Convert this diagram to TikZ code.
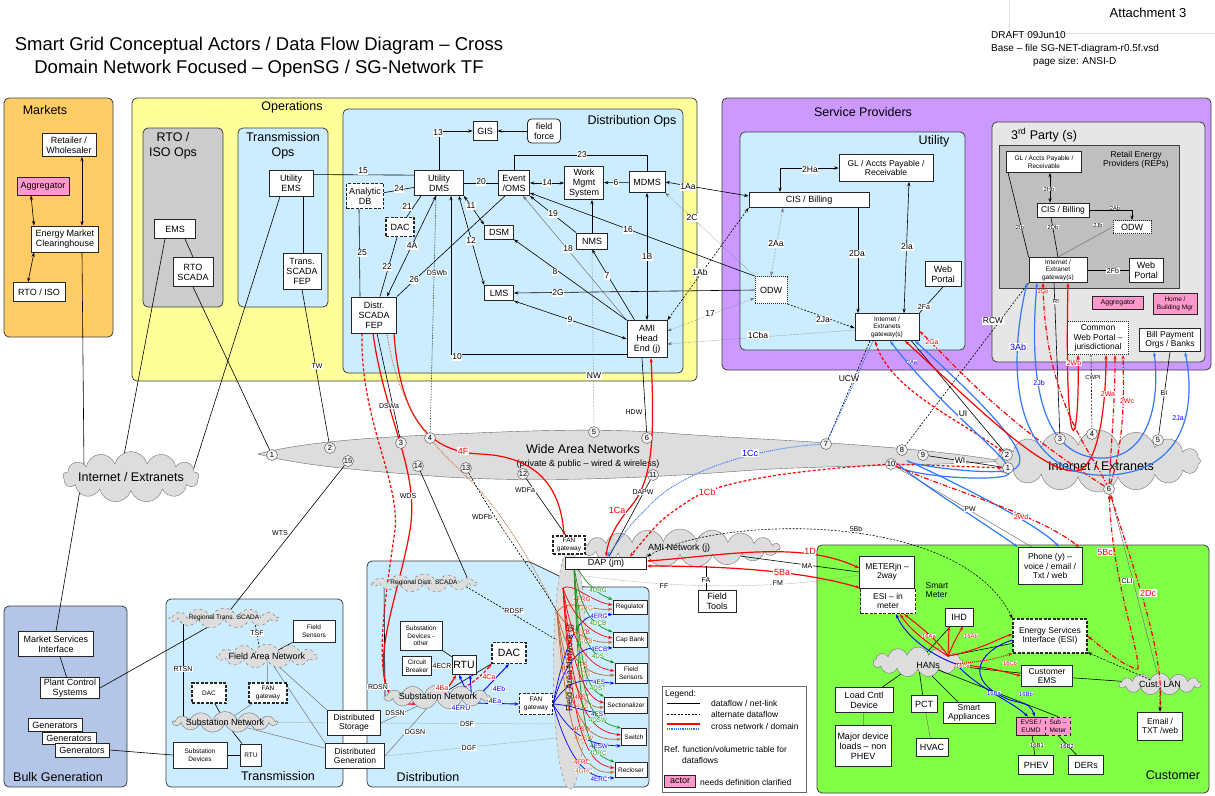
\documentclass[tikz,border=0pt]{standalone}
\usepackage{fontspec}
\setmainfont{Liberation Sans}
\usetikzlibrary{shapes.symbols,shapes.geometric,arrows.meta,positioning}

\definecolor{mktorange}{RGB}{255,204,102}
\definecolor{opsyellow}{RGB}{255,255,153}
\definecolor{rtogrey}{RGB}{204,204,204}
\definecolor{domblue}{RGB}{204,236,255}
\definecolor{sppurple}{RGB}{204,153,255}
\definecolor{tpgrey}{RGB}{230,230,230}
\definecolor{repgrey}{RGB}{191,191,191}
\definecolor{bulkblue}{RGB}{180,198,231}
\definecolor{custgreen}{RGB}{128,255,70}
\definecolor{actorpink}{RGB}{255,153,204}
\definecolor{netgrey}{RGB}{221,221,221}
\definecolor{xblue}{RGB}{50,120,255}
\definecolor{fbrown}{RGB}{190,100,40}
\definecolor{fgreen}{RGB}{20,150,20}

\pgfdeclarelayer{back}
\pgfdeclarelayer{mid}
\pgfsetlayers{back,mid,main}

\tikzset{
	zone/.style={draw=black!75, line width=0.8pt, rounded corners=5pt},
	zonelbl/.style={font=\fontsize{12.5}{14.5}\selectfont, align=center, inner sep=0pt},
	box/.style={draw=black!85, line width=0.8pt, fill=white, align=center, inner sep=0pt, font=\fontsize{9}{10}\selectfont},
	sz/.style 2 args={minimum width=#1pt, minimum height=#2pt},
	dbox/.style={box, dash pattern=on 3pt off 1.5pt, line width=1.1pt},
	obox/.style={box, dash pattern=on 1pt off 1pt, line width=1pt},
	actor/.style={box, fill=actorpink},
	net/.style={cloud, cloud puffs=13, cloud ignores aspect, draw=black!55, fill=netgrey, inner sep=0pt},
	nettxt/.style={font=\fontsize{9}{10}\selectfont, inner sep=0pt},
	fs6/.style={font=\fontsize{6.5}{7.5}\selectfont},
	fs8/.style={font=\fontsize{8.5}{9.5}\selectfont},
	fs10/.style={font=\fontsize{10.5}{12}\selectfont},
	flow/.style={fill=white, inner sep=0.6pt, font=\fontsize{8.5}{9}\selectfont},
	sflow/.style={flow, font=\fontsize{7}{7.5}\selectfont},
	tflow/.style={flow, inner sep=0.3pt, font=\fontsize{5.8}{6}\selectfont},
	dflow/.style={flow, inner sep=0.2pt, font=\fontsize{6.3}{6.5}\selectfont},
	tap/.style={circle, draw=black!70, fill=black!5, inner sep=0pt, minimum size=11pt, font=\fontsize{7.5}{7.5}\selectfont},
	link/.style={draw=black, line width=0.6pt},
	alt/.style={link, dash pattern=on 2pt off 1.5pt},
	faint/.style={draw=black!55, line width=0.5pt},
	xr/.style={draw=red, line width=1.2pt},
	xb/.style={draw=xblue, line width=1.2pt},
	hb/.style={draw=blue, line width=0.9pt},
	dd/.style={dash pattern=on 5pt off 2pt on 1pt off 2pt},
	>={Stealth[length=4.5pt,width=3.2pt]},
}

\begin{document}
\begin{tikzpicture}[x=1pt, y=-1pt]
	\useasboundingbox (0,0) rectangle (1215,795);

	% Domains and networks
	\begin{pgfonlayer}{back}
	\fill[white] (0,0) rectangle (1215,795);
	\draw[zone, fill=mktorange] (4,98) rectangle (113,337);
	\draw[zone, fill=opsyellow] (132,98) rectangle (697,381);
	\draw[zone, fill=rtogrey] (143,128) rectangle (223,307);
	\draw[zone, fill=domblue] (238,128) rectangle (328,307);
	\draw[zone, fill=domblue] (343,109) rectangle (683,373);
	\draw[zone, fill=sppurple] (722,98) rectangle (1211,370);
	\draw[zone, fill=domblue] (740,132) rectangle (965,350);
	\draw[zone, fill=tpgrey] (992,122) rectangle (1205,362);
	\draw[draw=black!75, line width=0.8pt, fill=repgrey] (999,145) rectangle (1179,288);
	\draw[zone, fill=bulkblue] (4,606) rectangle (127,787);
	\draw[zone, fill=domblue] (166,599) rectangle (343,787);
	\draw[zone, fill=domblue] (367,561) -- (528,561) -- (582,587) -- (649,587) -- (649,787) -- (367,787) -- cycle;
	\draw[zone, fill=custgreen] (817,545) rectangle (1209,793);

	\draw[draw=black!60, fill=netgrey] (258,454) .. controls (300,443) and (360,438) .. (430,435) .. controls (520,431) and (600,427) .. (680,434) .. controls (780,441) and (900,444) .. (1003,461) .. controls (940,466) and (820,465) .. (740,471) .. controls (650,478) and (520,484) .. (420,475) .. controls (340,469) and (290,463) .. cycle;
	\node[zonelbl] (wanlbl) at (583,449) {Wide Area Networks};
	\node[nettxt] (wansub) at (588,464) {(private \& public – wired \& wireless)};

	\node[net, cloud puffs=16, sz={205}{62}] (inetR) at (1098,461) {};
	\node[zonelbl] at (1101,466) {Internet / Extranets};
	\node[net, cloud puffs=19, sz={200}{38}] (amiN) at (680,548) {};
	\node[nettxt] at (679,548) {AMI Network (j)};
	\node[ellipse, draw=black!50, dashed, fill=netgrey, sz={33}{242}] (fanE) at (570,668) {};
	\node[nettxt, rotate=90] at (570,668) {Field Area Network (j)};
	\node[net, sz={90}{30}] (hans) at (918,662) {};
	\node[nettxt] at (928,665) {HANs};
	\node[net, sz={82}{22}] (custlan) at (1160,684) {};
	\node[nettxt] at (1160,684) {Cust. LAN};
	\end{pgfonlayer}

	% Title
	\node[font=\fontsize{18.5}{23}\selectfont, align=center] (title) at (259,57) {Smart Grid Conceptual Actors / Data Flow Diagram – Cross\\Domain Network Focused – OpenSG / SG-Network TF};
	\draw[black!12] (1009,0) -- (1009,33) -- (1215,33);
	\node[font=\fontsize{13}{14}\selectfont] (attach) at (1148,13) {Attachment 3};
	\node[anchor=north west, align=left, font=\fontsize{10}{13}\selectfont, inner sep=0pt] (draft) at (991,31) {DRAFT 09Jun10\\Base – file SG-NET-diagram-r0.5f.vsd\\\hspace*{4.2em}page size: ANSI-D};

	% Markets
	\node[zonelbl] (mktlbl) at (45,110) {Markets};
	\node[box, sz={54}{23}] (ret) at (69,145) {Retailer /\\Wholesaler};
	\node[actor, sz={52}{18}] (aggM) at (43,186) {Aggregator};
	\node[box, sz={67}{26}] (emc) at (65,239) {Energy Market\\Clearinghouse};
	\node[box, sz={52}{19}] (rtoiso) at (39,292) {RTO / ISO};
	\node[net, sz={136}{51}] (inetL) at (131,477) {};
	\node[zonelbl] at (131,477) {Internet / Extranets};

	% Operations
	\node[zonelbl] (opslbl) at (292,107) {Operations};
	\node[zonelbl] (rtolbl) at (173,146) {RTO /\\ISO Ops};
	\node[box, sz={41}{19}] (ems) at (175,229) {EMS};
	\node[box, sz={40}{29}] (rtoscada) at (193,272) {RTO\\SCADA};
	\node[zonelbl] (tolbl) at (283,146) {Transmission\\Ops};
	\node[box, sz={44}{26}] (uems) at (291,183) {Utility\\EMS};
	\node[box, sz={38}{36}] (tscada) at (302,271) {Trans.\\SCADA\\FEP};

	\node[zonelbl] (dolbl) at (632,121) {Distribution Ops};
	\node[box, sz={24}{19}] (gis) at (485,131) {GIS};
	\node[box, rounded corners=4pt, sz={33}{24}] (ff) at (544,131) {field\\force};
	\node[box, sz={49}{25}] (udms) at (439,183) {Utility\\DMS};
	\node[dbox, sz={37}{25}] (adb) at (365,196) {Analytic\\DB};
	\node[dbox, sz={28}{19}] (dacO) at (400,227) {DAC};
	\node[box, sz={31}{25}] (oms) at (514,183) {Event\\/OMS};
	\node[box, sz={39}{33}] (wms) at (584,183) {Work\\Mgmt\\System};
	\node[box, sz={36}{21}] (mdms) at (647,182) {MDMS};
	\node[box, sz={29}{14}] (dsm) at (499,232) {DSM};
	\node[box, sz={31}{16}] (nms) at (592,241) {NMS};
	\node[box, sz={29}{15}] (lms) at (499,293) {LMS};
	\node[box, sz={45}{36}] (dscada) at (374,315) {Distr.\\SCADA\\FEP};
	\node[box, sz={40}{37}] (ami) at (647,339) {AMI\\Head\\End (j)};

	% Service Providers
	\node[zonelbl] (splbl) at (863,112) {Service Providers};
	\node[zonelbl] (utlbl) at (934,141) {Utility};
	\node[box, fs8, sz={94}{27}] (gl) at (886,168) {GL / Accts Payable /\\Receivable};
	\node[box, sz={120}{15}] (cis) at (809,200) {CIS / Billing};
	\node[obox, sz={32}{27}] (odw) at (771,290) {ODW};
	\node[box, sz={36}{25}] (web) at (943,274) {Web\\Portal};
	\node[box, fs6, sz={64}{27}] (gwU) at (887,327) {Internet /\\Extranets\\gateway(s)};

	\node[zonelbl] (tplbl) at (1044,135) {3\textsuperscript{rd} Party (s)};
	\node[fs8, align=center, inner sep=0pt] (replbl) at (1136,160) {Retail Energy\\Providers (REPs)};
	\node[box, fs6, sz={75}{21}] (gl3) at (1044,162) {GL / Accts Payable /\\Receivable};
	\node[box, fs8, sz={52}{14}] (cis3) at (1063,210) {CIS / Billing};
	\node[obox, sz={38}{13}] (odw3) at (1132,227) {ODW};
	\node[box, fs6, sz={58}{25}] (gw3) at (1058,270) {Internet /\\Extranet\\gateway(s)};
	\node[box, sz={34}{24}] (web3) at (1146,270) {Web\\Portal};
	\node[actor, font=\fontsize{7}{8}\selectfont, sz={51}{13}] (agg3) at (1118,303) {Aggregator};
	\node[actor, fs6, sz={44}{21}] (hbm) at (1175,304) {Home /\\Building Mgr};
	\node[obox, fs8, sz={61}{33}] (cwp) at (1098,338) {Common\\Web Portal –\\jurisdictional};
	\node[box, fs8, sz={61}{23}] (bill) at (1170,340) {Bill Payment\\Orgs / Banks};

	% Network taps
	\foreach \n/\x/\y in {1/272/455, 2/330/448, 15/348/461, 3/401/443, 4/430/438, 14/418/466, 13/466/468, 12/523/474, 5/594/432, 6/647/438, 11/653/475, 7/826/444, 8/902/450, 9/923/455, 10/891/464}
		\node[tap] (w\n) at (\x,\y) {\n};
	\foreach \n/\x/\y in {1/1008/468, 2/1007/455, 3/1060/439, 4/1092/434, 5/1158/440, 6/1109/489}
		\node[tap] (i\n) at (\x,\y) {\n};

	% AMI
	\node[dbox, fs6, sz={32}{18}] (fangT) at (569,545) {FAN\\gateway};
	\node[box, sz={81}{12}] (dap) at (606,563) {DAP (jm)};
	\node[box, sz={38}{22}] (ftools) at (717,601) {Field\\Tools};

	% Bulk Generation
	\node[zonelbl] at (58,777) {Bulk Generation};
	\node[box, sz={75}{25}] (msi) at (56,644) {Market Services\\Interface};
	\node[box, sz={59}{21}] (pcs) at (70,688) {Plant Control\\Systems};
	\node[box, sz={54}{13}] (gen1) at (55,725) {Generators};
	\node[box, sz={54}{12}] (gen2) at (69,738) {Generators};
	\node[box, sz={54}{14}] (gen3) at (82,750) {Generators};

	% Transmission
	\node[zonelbl] at (278,776) {Transmission};
	\node[net, dashed, sz={108}{20}] (rtscada) at (224,618) {};
	\node[nettxt, fs6] at (224,618) {Regional Trans. SCADA};
	\node[box, fs6, sz={42}{22}] (fsensT) at (314,631) {Field\\Sensors};
	\node[net, dashed, sz={100}{24}] (fanT) at (267,656) {};
	\node[nettxt] at (267,656) {Field Area Network};
	\node[dbox, fs6, sz={34}{20}] (dacT) at (209,693) {DAC};
	\node[dbox, fs6, sz={38}{20}] (fangTr) at (268,693) {FAN\\gateway};
	\node[net, sz={104}{21}] (subT) at (225,722) {};
	\node[nettxt] at (225,722) {Substation Network};
	\node[box, fs6, sz={54}{26}] (sdev) at (200,755) {Substation\\Devices};
	\node[box, fs6, sz={21}{22}] (rtuT) at (251,755) {RTU};
	\node[box, fs8, sz={53}{25}] (dstor) at (354,723) {Distributed\\Storage};
	\node[box, fs8, sz={59}{25}] (dgen) at (355,756) {Distributed\\Generation};

	% Distribution
	\node[zonelbl] at (428,777) {Distribution};
	\node[net, dashed, sz={105}{18}] (rdscada) at (424,583) {};
	\node[nettxt, fs6] at (424,583) {Regional Distr. SCADA};
	\node[box, fs6, sz={42}{29}] (sdevo) at (421,636) {Substation\\Devices -\\other};
	\node[box, fs6, sz={29}{19}] (cbrk) at (417,666) {Circuit\\Breaker};
	\node[box, fs10, sz={24}{19}] (rtuD) at (464,665) {RTU};
	\node[dbox, fs10, sz={34}{21}] (dacD) at (509,653) {DAC};
	\node[net, sz={105}{24}] (subD) at (437,697) {};
	\node[nettxt] at (438,696) {Substation Network};
	\node[dbox, fs6, sz={33}{21}] (fangD) at (536,704) {FAN\\gateway};
	\node[box, fs6, sz={34}{14}] (reg) at (630,607) {Regulator};
	\node[box, fs6, sz={34}{15}] (cap) at (630,640) {Cap Bank};
	\node[box, fs6, sz={32}{20}] (fsenD) at (631,673) {Field\\Sensors};
	\node[box, fs6, sz={43}{16}] (sect) at (626,705) {Sectionalizer};
	\node[box, fs6, sz={25}{17}] (sw) at (634,737) {Switch};
	\node[box, fs6, sz={32}{15}] (recl) at (631,770) {Recloser};

	% Customer
	\node[zonelbl] at (1173,775) {Customer};
	\node[box, fs8, sz={55}{32}] (meter) at (887,572) {METERjn –\\2way};
	\node[dbox, fs8, sz={55}{25}] (esim) at (888,601) {ESI – in\\meter};
	\node[fs8, align=left, inner sep=0pt] (smlbl) at (937,590) {Smart\\Meter};
	\node[box, fs8, sz={64}{37}] (phone) at (1050,566) {Phone (y) –\\voice / email /\\Txt / web};
	\node[box, sz={28}{18}] (ihd) at (959,617) {IHD};
	\node[dbox, fs8, sz={74}{34}] (esi) at (1050,636) {Energy Services\\Interface (ESI)};
	\node[box, fs8, sz={51}{21}] (cems) at (1047,676) {Customer\\EMS};
	\node[box, fs8, sz={45}{28}] (email) at (1160,726) {Email /\\TXT /web};
	\node[box, fs8, sz={52}{21}] (sapp) at (969,713) {Smart\\Appliances};
	\node[actor, fs6, sz={30}{18}] (evse) at (1031,726) {EVSE /\\EUMD};
	\node[actor, fs6, dashed, sz={25}{18}] (subm) at (1058,726) {Sub –\\Meter};
	\node[box, sz={35}{19}] (phev) at (1036,765) {PHEV};
	\node[box, sz={35}{19}] (ders) at (1086,765) {DERs};
	\node[box, sz={58}{25}] (lcd) at (864,700) {Load Cntl\\Device};
	\node[box, sz={56}{41}] (mdl) at (863,746) {Major device\\loads – non\\PHEV};
	\node[box, sz={26}{17}] (pct) at (924,704) {PCT};
	\node[box, sz={32}{18}] (hvac) at (932,747) {HVAC};

	% Legend
	\draw[black!60, fill=white] (662,686) rectangle (806,792);
	\node[anchor=west, inner sep=0pt, fs8] at (665,694) {Legend:};
	\draw[link] (667,703) -- (700,703);
	\node[anchor=west, inner sep=0pt, fs8] at (711,703) {dataflow / net-link};
	\draw[alt] (667,714) -- (700,714);
	\node[anchor=west, inner sep=0pt, fs8] at (711,714) {alternate dataflow};
	\draw[xr] (667,724) -- (700,724);
	\draw[xb, densely dotted] (667,729) -- (700,729);
	\node[anchor=west, inner sep=0pt, fs8] at (711,726) {cross network / domain};
	\node[anchor=west, inner sep=0pt, fs8] at (664,749) {Ref. function/volumetric table for};
	\node[anchor=west, inner sep=0pt, fs8] at (682,760) {dataflows};
	\node[actor, sz={31}{12}] at (680,781) {actor};
	\node[anchor=west, inner sep=0pt, fs8] at (700,782) {needs definition clarified};

	\begin{pgfonlayer}{mid}
	% Markets
	\coordinate (inetLa) at (84,468);
	\coordinate (inetLb) at (80,490);
	\coordinate (inetLc) at (122,466);
	\coordinate (inetLd) at (192,474);
	\draw[link,<->] ([xshift=13pt]ret.south) -- ([xshift=17pt]emc.north);
	\draw[link,<->] ([xshift=-12pt]aggM.south) -- ([xshift=-31pt]emc.north);
	\draw[link,<->] ([xshift=-31pt]emc.south) -- ([xshift=-11pt]rtoiso.north);
	\draw[link] ([xshift=17pt]emc.south) -- (inetLa);
	\draw[link] (msi.north) -- (inetLb);

	% Operations
	\draw[link] ([xshift=-10pt]ems.south) -- (inetLc);
	\draw[link] ([xshift=10pt]ems.south) -- (rtoscada.north);
	\draw[link] (rtoscada.south) -- (w1);
	\draw[link] ([xshift=-11pt]uems.south) -- (inetLd);
	\draw[link] ([xshift=12pt]uems.south) -- ([xshift=1pt]tscada.north);
	\draw[link] (tscada.south) -- (w2);
	\draw[link] ([yshift=-5pt]uems.north east) -- ([yshift=-5pt]udms.north west);

	% Distribution Ops
	\draw[link,->] (udms.north) |- (gis.west);
	\draw[link,->] (ff) -- (gis);
	\draw[link] (adb) -- (udms);
	\draw[link] (dacO) -- ([xshift=-18pt]udms.south);
	\draw[link] ([xshift=-6pt]adb.south) -- ([xshift=-14pt]dscada.north);
	\draw[link] (dacO) -- ([xshift=6pt]dscada.north);
	\draw[link,<->] ([xshift=13pt]dscada.north) -- ([xshift=-3pt]udms.south);
	\draw[link] (dscada.north east) -- ([xshift=-9pt]oms.south);
	\draw[link] (udms) -- (oms);
	\draw[link,<->] (oms) -- (wms);
	\draw[link,->] (mdms) -- (wms);
	\draw[link] (oms.north) -- ++(0,-15) -| (mdms.north);
	\draw[link,<->] (udms.south east) -- (dsm.north west);
	\draw[link,<->] ([xshift=-5pt]udms.south east) -- (lms.north west);
	\draw[link,->] (nms.north west) -- (oms.south east);
	\draw[faint,->] (ami.north west) -- ([xshift=9pt]oms.south);
	\draw[link,->] (odw.north west) -- ([yshift=3pt]oms.south east);
	\draw[link,->] (nms.north) -- (nms.north |- wms.south);
	\draw[link,->] (ami.north west) -- (dsm.south east);
	\draw[link,->] ([xshift=8pt]ami.north west) -- (nms.south);
	\draw[link,<->] (ami.north) -- (mdms.south);
	\draw[link,->] (odw.west) -- (lms.east);
	\draw[link,<->] (lms.south east) -- (ami.west);
	\draw[link,->] ([yshift=-15pt]ami.west) -| ([xshift=12pt]udms.south);
	\draw[link,<->] (mdms.east) -- ([yshift=4pt]cis.west);
	\draw[faint, densely dotted, ->] (odw.north west) -- (mdms.south east);
	\draw[alt,<->] (ami.north east) -- (cis.south west);
	\draw[faint, densely dotted, <->] ([yshift=8pt]ami.east) -- ([yshift=-8pt]odw.west);
	\draw[faint, densely dotted, <-] ([yshift=-5pt]ami.east) -- ([yshift=-3pt]gwU.west);

	% Utility
	\draw[faint, densely dotted, <->] ([xshift=-26pt]cis.south) -- (odw.north);
	\draw[link,<->] ([xshift=-29pt]cis.north) |- (gl.west);
	\draw[link,->] ([xshift=49pt]cis.south) -- ([xshift=-29pt]gwU.north);
	\draw[link,<->] ([xshift=23pt]gl.south) -- ([xshift=17pt]gwU.north);
	\draw[link] (web.south) -- (gwU.north east);
	\draw[alt,->] (odw.south east) -- ([yshift=-1pt]gwU.west);

	% 3rd party
	\draw[link,<->] ([xshift=6pt]gl3.south) -- ([xshift=-13pt]cis3.north);
	\draw[link,->] (cis3.east) -| (odw3.north);
	\draw[link] ([xshift=2pt]gl3.south west) -- (gw3.north west);
	\draw[link] ([xshift=-12pt]cis3.south) -- (gw3.north);
	\draw[faint] (odw3.west) -- (gw3.north);
	\draw[link] (gw3.east) -- (web3.west);

	% Wide area links
	\draw[faint, densely dotted] (nms.south) -- (w5);
	\draw[link] ([xshift=-5pt]ami.south) -- (w6);
	\draw[link, densely dotted] ([xshift=-3pt]udms.south) -- (w4);
	\draw[link] ([xshift=3pt]dscada.south) -- (w3);
	\draw[alt] ([xshift=-17pt]gwU.south) -- (w7);
	\draw[alt] (gw3.south west) -- (w8);
	\draw[link] ([xshift=-8pt]gwU.south east) -- (i2);
	\draw[link] (w9) -- (i1);
	\draw[faint] (w10) -- ([xshift=-18pt]phone.north);
	\draw[link] ([xshift=-4pt]gw3.south) -- (i3);
	\draw[alt] ([xshift=-7pt]cwp.south) -- (i4);
	\draw[link] (bill.south) -- (i5);
	\draw[faint] (i6) -- (custlan);
	\draw[link] (w11) -- ([xshift=3pt]dap.north);
	\draw[link] (w12) -- ([xshift=-3pt]fangT.north);
	\draw[link] (w14) -- (rdscada);
	\draw[link] (w15) -- (rtscada);

	% Bulk generation and transmission
	\draw[link] (msi) -- (pcs);
	\draw[link] (pcs.east) -- (rtscada);
	\draw[link] (gen3.east) -- (sdev.west);
	\draw[link] (sdev) -- (rtuT);
	\draw[link] (rtuT) -- (subT);
	\draw[link] ([xshift=-41pt]rtscada.center) -- ([xshift=-42pt]subT.center);
	\draw[alt] ([xshift=30pt]rtscada.center) -- ([xshift=-6pt]fanT.center);
	\draw[link] (fanT) -- (fsensT);
	\draw[faint] (fanT) -- (fangTr);
	\draw[faint] (fangTr) -- (subT);
	\draw[link] (dacT) -- (subT);
	\draw[faint, densely dotted] (subT) -- (dstor);
	\draw[faint] (subT) -- (dgen);
	\draw[faint] (fanT) -- (dstor.north west);
	\draw[faint] (fanT) -- (dgen.north west);

	% Distribution
	\coordinate (fanRD) at (557,640);
	\coordinate (fanDS) at (556,724);
	\coordinate (fanDG) at (556,738);
	\coordinate (subDe) at (472,703);
	\draw[link] ([xshift=-40pt]rdscada.center) -- ([xshift=-52pt]subD.center);
	\draw[alt] (rdscada) -- (fanRD);
	\draw[faint] (dstor.east) -- (subD);
	\draw[faint] (dgen.east) -- (subD);
	\draw[faint, densely dotted] (dstor.east) -- (fanDS);
	\draw[faint, densely dotted] (dgen.east) -- (fanDG);
	\draw[link] (rtuD) -- (sdevo);
	\draw[link] (rtuD) -- (cbrk);
	\draw[link] (subD) -- (dacD);
	\draw[hb,->] (subDe) -- ([xshift=-5pt]rtuD.south);
	\draw[hb,->] (subDe) -- ([xshift=6pt]rtuD.south);
	\draw[hb,->] (subDe) -- (dacD.south);
	\draw[hb,->] (subDe) -- (fangD.west);

	% Field devices
	\coordinate (srcG) at (574,567);
	\coordinate (srcR) at (563,588);
	\coordinate (srcB) at (557,612);
	\foreach \dev/\code/\dy in {reg/RG/607, cap/CB/640, fsenD/S/673, sect/ST/705, sw/SW/737, recl/RC/770} {
		\draw[fgreen, line width=0.7pt, ->] (srcG) .. controls (580,\dy-40) and (585,\dy-18) .. (\dev.north west);
		\draw[red, line width=0.7pt, ->] (srcR) .. controls (572,\dy-25) and (590,\dy-6) .. ([yshift=2pt]\dev.west);
		\draw[fbrown, line width=0.7pt, ->] (srcB) .. controls (568,\dy-10) and (590,\dy+4) .. ([yshift=-2pt]\dev.west);
		\draw[blue, line width=0.7pt, ->] (fangD.east) .. controls (572,\dy) and (590,\dy+8) .. (\dev.south west);
		\node[dflow, text=fgreen] at (598,\dy-17) {4D\code};
		\node[dflow, text=red] at (582,\dy-8) {4F\code};
		\node[dflow, text=fbrown] at (584,\dy+1) {4G\code};
		\node[dflow, text=blue] at (599,\dy+9) {4E\code};
	}

	% Cross network: operations to field
	\draw[xr,->] ([xshift=20pt]dscada.south) .. controls (400,420) and (430,452) .. (480,454) .. controls (530,456) and (560,480) .. ([xshift=-5pt]fangT.north);
	\draw[xr,->] ([xshift=-1pt]dscada.south) .. controls (385,420) and (420,470) .. (410,530) .. controls (400,590) and (370,660) .. (390,695) .. controls (405,712) and (440,705) .. ([xshift=-8pt]rtuD.south);
	\draw[xr, densely dashed, ->] ([xshift=-12pt]dscada.south) .. controls (360,420) and (400,480) .. (395,530) .. controls (385,600) and (372,680) .. (395,698) .. controls (425,714) and (470,690) .. (dacD.south west);
	\draw[fbrown, line width=0.8pt, densely dotted] ([xshift=13pt]dscada.south) .. controls (400,420) and (440,450) .. (470,480) .. controls (510,520) and (540,580) .. (srcB);
	\draw[alt] (w13) .. controls (500,530) and (540,580) .. (srcB);
	\draw[xr,<->] ([xshift=4pt]ami.south) .. controls (655,440) and (652,480) .. (632,505) .. controls (615,525) and (608,540) .. (dap.north);
	\draw[xr, densely dashed, ->] (w10) .. controls (800,470) and (720,480) .. (690,500) .. controls (660,520) .. ([xshift=24pt]dap.north);
	\draw[xb, line width=1pt, densely dotted, ->] ([xshift=-14pt]gwU.south) -- (w7) .. controls (760,448) and (690,468) .. (655,500) .. controls (630,525) .. ([xshift=1pt]dap.north);

	% AMI to customer
	\coordinate (amiFA) at (706,566);
	\coordinate (fanFF) at (586,576);
	\draw[xr,<->] ([yshift=2pt]dap.east) .. controls (720,556) and (800,540) .. ([yshift=4pt]meter.west);
	\draw[xr,<->] ([yshift=-3pt]dap.east) .. controls (720,566) and (800,570) .. (esim.north west);
	\draw[link] (meter.west) -- (amiN);
	\draw[link] (ftools.north -| amiFA) -- (amiFA);
	\draw[faint, densely dotted] (fanFF) .. controls (700,592) and (800,586) .. ([yshift=-3pt]meter.west);
	\draw[alt,<->] (dap.north east) .. controls (720,515) and (960,510) .. (esi.north west);

	% Cross network: service providers
	\draw[xr, densely dashed, <->] ([xshift=-12pt]gwU.south) .. controls (890,390) and (960,420) .. (i2);
	\draw[xr, densely dashed, ->] (w10) -- (i1);
	\draw[xb,<->] ([xshift=3pt]gwU.south) .. controls (950,420) and (1030,470) .. (1005,476) .. controls (980,482) and (900,474) .. (900,466) .. controls (930,490) and (995,530) .. (phone.north west);
	\draw[xb,<->] ([xshift=28pt]gwU.south) .. controls (990,410) and (1040,460) .. (1012,470) .. controls (985,476) and (905,464) .. (908,461) .. controls (950,480) and (1040,525) .. ([xshift=9pt]phone.north);
	\draw[xr,<->] ([xshift=18pt]gwU.south) .. controls (980,410) and (1050,480) .. (1080,470) .. controls (1100,460) and (1106,400) .. ([xshift=8pt]cwp.south);
	\draw[xr, dd, ->] (i6) .. controls (1000,420) and (950,360) .. ([yshift=-4pt]gwU.east);
	\draw[xr, dd, ->] (w10) .. controls (950,490) and (1040,515) .. ([xshift=29pt]phone.north);
	\draw[xr,<->] ([xshift=10pt]gw3.south) .. controls (1064,470) and (1080,460) .. ([xshift=-20pt]cwp.south);
	\draw[xr, dd, <-] ([xshift=-15pt]gw3.south) .. controls (1045,400) and (1090,450) .. (i6);
	\draw[xr, dd, ->] (i6) .. controls (1112,430) and (1115,400) .. ([xshift=17pt]cwp.south);
	\draw[xr, dd, ->] (i6) .. controls (1124,440) and (1124,400) .. ([xshift=25pt]cwp.south);
	\draw[xb,<->] ([xshift=-31pt]gw3.south) .. controls (1000,400) and (1030,480) .. (1110,475) .. controls (1190,470) and (1195,400) .. ([xshift=15pt]bill.south);
	\draw[xb,<->] ([xshift=-21pt]gw3.south) .. controls (1025,420) and (1060,460) .. (1105,458) .. controls (1150,455) and (1160,400) .. ([xshift=-16pt]bill.south);
	\draw[xr, dd, <->] (i6) .. controls (1112,580) and (1140,650) .. (1138,670) .. controls (1120,662) .. (esi.east);
	\draw[xr, dd, <->] (i6) .. controls (1130,560) and (1165,650) .. (email.north);

	% Customer
	\coordinate (hanA) at (948,656);
	\coordinate (hanB) at (956,664);
	\draw[link] (hans) -- (lcd);
	\draw[faint] (lcd) -- (mdl);
	\draw[link] (hans) -- (pct);
	\draw[faint] (pct) -- (hvac);
	\draw[link] (hans) -- (sapp);
	\draw[link] (hans) -- (ihd);
	\draw[link] (hans) -- (cems);
	\draw[link] (hans) -- (esi);
	\draw[link] (hans) -- (subm.north);
	\draw[link] (evse) -- (phev);
	\draw[link] (subm.south) -- (ders);
	\draw[link] (cems) -- (custlan);
	\draw[alt,->] (custlan) -- (esi);
	\draw[alt,->] (custlan) -- (email);
	\draw[xr, line width=1pt, ->] (hanA) .. controls (930,645) and (910,630) .. ([xshift=12pt]esim.south);
	\draw[xr, line width=1pt, ->] (hanA) .. controls (938,640) and (918,625) .. ([xshift=16pt]esim.south);
	\draw[hb,->] (hanB) .. controls (930,655) and (905,635) .. ([xshift=8pt]esim.south);
	\draw[xr, line width=1pt, ->] (hanA) -- ([xshift=-10pt]ihd.south);
	\draw[xr, line width=1pt, ->] (hanA) .. controls (955,640) .. ([xshift=4pt]ihd.south);
	\draw[xr, line width=1pt, ->] (hanA) .. controls (980,650) and (995,640) .. ([yshift=2pt]esi.west);
	\draw[xr, line width=1pt, ->] (hanB) .. controls (990,668) .. (cems.west);
	\draw[xr, line width=1pt, densely dotted, ->] (hanB) .. controls (990,660) .. (esi.south west);
	\draw[hb,->] (hanB) .. controls (980,690) and (1010,700) .. ([xshift=-3pt]evse.north);
	\draw[hb,->] ([yshift=-4pt]esi.west) .. controls (980,650) and (960,680) .. (1010,700) .. controls (1030,705) .. ([xshift=4pt]evse.north);
	\end{pgfonlayer}

	% Flow labels
	\foreach \t/\x/\y in {13/438/133, 15/363/171, 24/399/189, 21/407/207, 4A/412/246, 25/362/253, 22/387/267, 26/414/280, 20/481/182, 14/547/183, 6/616/183, 1Aa/688/187, 23/582/155, 11/471/206, 12/471/241, 19/553/214, 18/568/249, 16/628/230, 2C/692/218, 1B/647/257, 1Ab/700/272, 8/555/272, 7/607/276, 2G/558/293, 9/570/320, 10/457/357, 17/710/314, 1Cba/758/335, 2Ja/823/320, 2Ha/810/170, 2Aa/776/244, 2Da/857/254, 2Ia/907/247, NW/594/376, UCW/849/379, UI/963/414, WI/960/461, RCW/993/321}
		\node[flow] at (\x,\y) {\t};
	\foreach \t/\x/\y in {2Fa/924/307, TW/317/366, HDW/634/412, DSWa/389/406, DSWb/437/273, PW/970/509, BI/1164/393, CLI/1127/581, 5Bb/856/529, FF/664/586, FA/706/580, FM/778/583, MA/807/566, WTS/280/533, TSF/257/633, RTSN/183/669, RDSN/378/687, RDSF/514/611, DSSN/395/713, DGSN/415/732, DSF/467/724, DGF/469/748, WDS/408/496, WDFa/525/490, WDFb/482/517, DAPW/643/492, 4ECR/442/666, 2Fb/1113/271}
		\node[sflow] at (\x,\y) {\t};
	\foreach \t/\x/\y in {RI/1056/302, CWPI/1093/377, 2Hb/1049/189, 2Ab/1115/208, 2Ib/1020/227, 2Db/1053/227, 2Jb/1098/225, 16B1/1037/745, 16B2/1067/746}
		\node[tflow] at (\x,\y) {\t};
	\foreach \t/\x/\y in {4F/463/451, 1Ca/617/510, 1Cb/707/492, 1D/810/551, 5Ba/782/572, 5Bc/1105/552, 2Dc/1148/593}
		\node[flow, text=red, font=\fontsize{9}{9}\selectfont] at (\x,\y) {\t};
	\foreach \t/\x/\y in {2Ga/932/342, 2Wb/1074/363, 2Wa/1108/394, 2Wc/1127/401, 2Wd/1021/517, 4Ba/442/688, 4Ca/489/677}
		\node[sflow, text=red] at (\x,\y) {\t};
	\foreach \t/\x/\y in {2Gb/1043/291, 16Aa/929/636, 16Ab/971/636, 16Ca/963/666, 16Cb/1010/663}
		\node[tflow, text=red] at (\x,\y) {\t};
	\foreach \t/\x/\y in {1Cc/750/453, 3Ab/1018/347}
		\node[flow, text=blue, font=\fontsize{9}{9}\selectfont] at (\x,\y) {\t};
	\foreach \t/\x/\y in {2Jb/1039/383, 2Ja/1178/418, 4ERU/461/708, 4Eb/499/689, 4Ea/495/701}
		\node[sflow, text=blue] at (\x,\y) {\t};
	\foreach \t/\x/\y in {2Aa/912/362, 16Ba/994/693, 16Bb/1026/694}
		\node[tflow, text=blue] at (\x,\y) {\t};
\end{tikzpicture}
\end{document}
